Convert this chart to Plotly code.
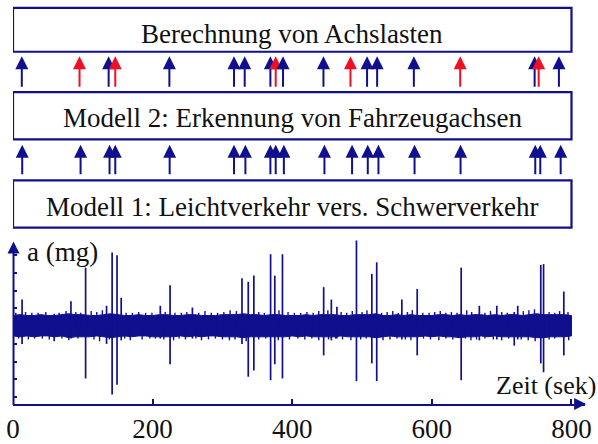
import plotly.graph_objects as go

# ---------------- data ----------------
# time axis ticks
x_ticks = [0, 200, 400, 600, 800]
x_tick_labels = ["0", "200", "400", "600", "800"]
y_ticks = [-80, -60, -40, -20, 0, 20, 40, 60, 80]

# main vehicle spikes: time (s), positive peak (mg), negative peak (mg)
spike_t = [13, 104, 142, 149, 225, 328, 337, 345, 369, 375, 386, 445, 492, 514, 521, 579, 642, 756, 760, 789]
spike_up = [30, 66, 83, 80, 46, 54, 50, 57, 81, 57, 81, 44, 98, 59, 72, 42, 66, 69, 70, 39]
spike_dn = [-20, -59, -77, -66, -43, -20, -57, -50, -61, -43, -59, -33, -62, -42, -62, -33, -61, -42, -52, -33]

# small bumps above/below noise band
bump_t = [59, 83, 134, 155, 211, 257, 456, 464, 557, 668, 693, 718, 723]
bump_up = [14, 28, 23, 32, 23, 21, 30, 22, 30, 23, 23, 16, 23]
bump_dn = [-17, -14, -20, -16, -14, -14, -16, -14, -15, -16, -15, -22, -15]

# hairs on the upper / lower edge of the noise band
hair_up_t = [4, 18, 27, 36, 47, 66, 76, 90, 97, 112, 120, 128, 162, 171, 180, 190, 199, 218, 232, 241,
             249, 266, 275, 284, 293, 302, 311, 320, 352, 360, 381, 394, 403, 412, 421, 430, 438, 451, 470, 478,
             486, 500, 507, 528, 536, 544, 552, 565, 572, 587, 596, 604, 612, 620, 628, 636, 650, 657, 676, 684,
             700, 708, 731, 739, 747, 768, 776, 783, 795]
hair_up_v = [15, 16, 15, 15, 16, 15, 17, 16, 15, 17, 16, 18, 15, 15, 16, 15, 15, 16, 15, 15,
             16, 15, 17, 15, 15, 16, 18, 17, 16, 15, 18, 16, 15, 15, 16, 15, 17, 18, 16, 15,
             17, 16, 18, 15, 16, 17, 15, 16, 18, 15, 15, 16, 17, 15, 16, 15, 18, 16, 15, 17,
             16, 15, 17, 18, 19, 16, 15, 17, 16]
hair_dn_t = [8, 22, 31, 42, 52, 70, 80, 93, 116, 124, 138, 160, 168, 185, 196, 204, 216, 230, 238, 247,
             262, 270, 280, 290, 300, 310, 318, 334, 352, 362, 380, 396, 408, 418, 428, 438, 452, 462, 472, 484,
             498, 506, 530, 540, 550, 562, 570, 588, 598, 610, 620, 630, 648, 656, 664, 676, 688, 700, 710, 728,
             738, 748, 768, 776, 796]
hair_dn_v = [-14, -15, -14, -14, -15, -14, -16, -14, -15, -17, -15, -14, -16, -15, -14, -14, -15, -16, -14, -15,
             -14, -16, -15, -14, -15, -16, -15, -17, -15, -14, -16, -15, -14, -15, -14, -16, -15, -14, -15, -16,
             -15, -14, -16, -15, -14, -15, -16, -14, -15, -16, -14, -15, -14, -16, -15, -14, -15, -16, -14, -15,
             -16, -17, -15, -14, -16]

# noise band core envelope every 10 s
band_t = list(range(0, 801, 10))
band_up = [12, 13, 12, 12, 13, 12, 12, 13, 14, 13, 13, 12, 12, 13, 14, 13, 12, 12, 13, 12,
           12, 13, 13, 12, 12, 13, 13, 12, 12, 12, 13, 13, 13, 14, 13, 13, 12, 13, 13, 12,
           12, 12, 13, 12, 13, 13, 13, 12, 12, 13, 13, 13, 14, 12, 12, 13, 12, 13, 12, 12,
           12, 13, 13, 12, 13, 12, 13, 13, 12, 13, 12, 13, 13, 12, 13, 14, 13, 13, 13, 13, 12]
band_dn = [-11, -12, -11, -12, -11, -11, -12, -11, -13, -12, -12, -12, -11, -12, -13, -12, -11, -12, -11, -11,
           -12, -12, -12, -12, -11, -12, -11, -12, -11, -11, -12, -12, -12, -13, -12, -12, -12, -12, -12, -12,
           -11, -12, -11, -12, -12, -12, -12, -11, -12, -12, -12, -12, -13, -12, -11, -12, -12, -12, -12, -11,
           -12, -11, -12, -12, -13, -12, -12, -11, -12, -11, -12, -12, -12, -12, -12, -13, -13, -12, -12, -12, -11]

# arrows: upper row (Modell 2 -> Berechnung), colour flag 1 = red
arrows_top_t = [12.6, 95.3, 137, 146.5, 224, 316.6, 331.9, 368.7, 376.3, 386.8,
                444.7, 483.4, 507.2, 521.6, 574.2, 640.6, 747.2, 753, 782]
arrows_top_red = [0, 1, 0, 1, 0, 0, 0, 0, 1, 0, 0, 1, 0, 0, 0, 1, 0, 1, 0]
# lower row (Modell 1 -> Modell 2)
arrows_bot_t = [13.2, 96.8, 138.3, 146.5, 224.4, 316.6, 332.9, 368.7, 376.3, 388,
                446.1, 485.7, 508.2, 523.5, 575.2, 641.1, 748.1, 755.3, 784.5]

box_labels = ["Berechnung von Achslasten",
              "Modell 2: Erkennung von Fahrzeugachsen",
              "Modell 1: Leichtverkehr vers. Schwerverkehr"]

# ---------------- styling ----------------
NAVY = "#10108e"
RED = "#f01020"
FONT = "Liberation Serif"
W, H = 598, 444
ML, MR, MT, MB = 13, 13, 0, 34
PLOT_H = H - MT - MB  # 410


def py(px):
    """pixel row -> paper y"""
    return (MT + PLOT_H - px) / PLOT_H


# y-axis: 0 at pixel row 331, 20 mg per 18 px
Y0_PX = 331
PX_PER_UNIT = 18 / 20
y_dom_top_px = 244
y_bot = -(410 - Y0_PX) / PX_PER_UNIT
y_top = (Y0_PX - y_dom_top_px) / PX_PER_UNIT
x_max = (585 - 13.5) / (558 / 800)

fig = go.Figure()

# noise band core
fig.add_trace(go.Scatter(
    x=band_t + band_t[::-1], y=band_up + band_dn[::-1],
    fill="toself", fillcolor=NAVY, line=dict(color=NAVY, width=1),
    mode="lines", hoverinfo="skip", showlegend=False))

# hairs on the band edge
hx, hy = [], []
for t, v in zip(hair_up_t, hair_up_v):
    hx += [t, t, None]
    hy += [0, v, None]
for t, v in zip(hair_dn_t, hair_dn_v):
    hx += [t, t, None]
    hy += [0, v, None]
fig.add_trace(go.Scatter(x=hx, y=hy, mode="lines",
                         line=dict(color=NAVY, width=1.4),
                         hoverinfo="skip", showlegend=False))

# spikes
sx, sy = [], []
for t, u, d in zip(spike_t + bump_t, spike_up + bump_up, spike_dn + bump_dn):
    sx += [t, t, None]
    sy += [d, u, None]
fig.add_trace(go.Scatter(x=sx, y=sy, mode="lines",
                         line=dict(color=NAVY, width=1.7),
                         hoverinfo="skip", showlegend=False))

shapes = []
annotations = []

# boxes (pixel rows)
box_rows = [(8, 52.5), (93.5, 141.5), (183, 231)]
text_rows = [34, 120, 210]
for (top, bot), label, ty in zip(box_rows, box_labels, text_rows):
    shapes.append(dict(type="rect", xref="x", yref="paper", x0=0, x1=800,
                       y0=py(bot), y1=py(top),
                       line=dict(color=NAVY, width=2.2), fillcolor="white", layer="above"))
    annotations.append(dict(text=label, xref="x", yref="paper", x=400, y=py(ty),
                            showarrow=False, xanchor="center", yanchor="middle",
                            font=dict(family=FONT, size=27, color="#111111")))

# arrows between boxes
for t, r in zip(arrows_top_t, arrows_top_red):
    annotations.append(dict(xref="x", yref="paper", x=t, y=py(57), ax=0, ay=32,
                            axref="pixel", ayref="pixel", text="", showarrow=True,
                            arrowhead=2, arrowsize=1.3, arrowwidth=2,
                            arrowcolor=RED if r else NAVY))
for t in arrows_bot_t:
    annotations.append(dict(xref="x", yref="paper", x=t, y=py(147), ax=0, ay=31,
                            axref="pixel", ayref="pixel", text="", showarrow=True,
                            arrowhead=2, arrowsize=1.3, arrowwidth=2, arrowcolor=NAVY))

# axis arrows
annotations.append(dict(xref="paper", yref="paper", x=0.0009, y=py(245), ax=0, ay=165,
                        axref="pixel", ayref="pixel", text="", showarrow=True,
                        arrowhead=2, arrowsize=1.2, arrowwidth=2, arrowcolor=NAVY))
annotations.append(dict(xref="paper", yref="paper", x=1.002, y=py(410), ax=-12, ay=0,
                        axref="pixel", ayref="pixel", text="", showarrow=True,
                        arrowhead=2, arrowsize=1.2, arrowwidth=2, arrowcolor=NAVY))

# axis titles
annotations.append(dict(text="a (mg)", xref="paper", yref="paper",
                        x=(25 - ML) / (W - ML - MR), y=py(256),
                        xanchor="left", yanchor="middle", showarrow=False,
                        font=dict(family=FONT, size=27, color="#111111")))
annotations.append(dict(text="Zeit (sek)", xref="paper", yref="paper",
                        x=(598 - ML) / (W - ML - MR), y=py(391),
                        xanchor="right", yanchor="middle", showarrow=False,
                        font=dict(family=FONT, size=26, color="#111111")))

fig.update_layout(
    width=W, height=H, autosize=False,
    margin=dict(l=ML, r=MR, t=MT, b=MB, pad=0),
    paper_bgcolor="white", plot_bgcolor="white",
    showlegend=False,
    shapes=shapes, annotations=annotations,
    xaxis=dict(range=[0, x_max], tickvals=x_ticks, ticktext=x_tick_labels,
               showgrid=False, zeroline=False, showline=True, linecolor=NAVY, linewidth=2,
               ticks="inside", ticklen=5, tickwidth=1.5, tickcolor=NAVY,
               tickfont=dict(family=FONT, size=27, color="#111111"), fixedrange=True),
    yaxis=dict(range=[y_bot, y_top], domain=[0, py(y_dom_top_px)], tickvals=y_ticks,
               showticklabels=False, showgrid=False, zeroline=False, showline=False,
               ticks="inside", ticklen=4, tickwidth=1.5, tickcolor=NAVY, fixedrange=True),
)

fig.write_html("out.html")
